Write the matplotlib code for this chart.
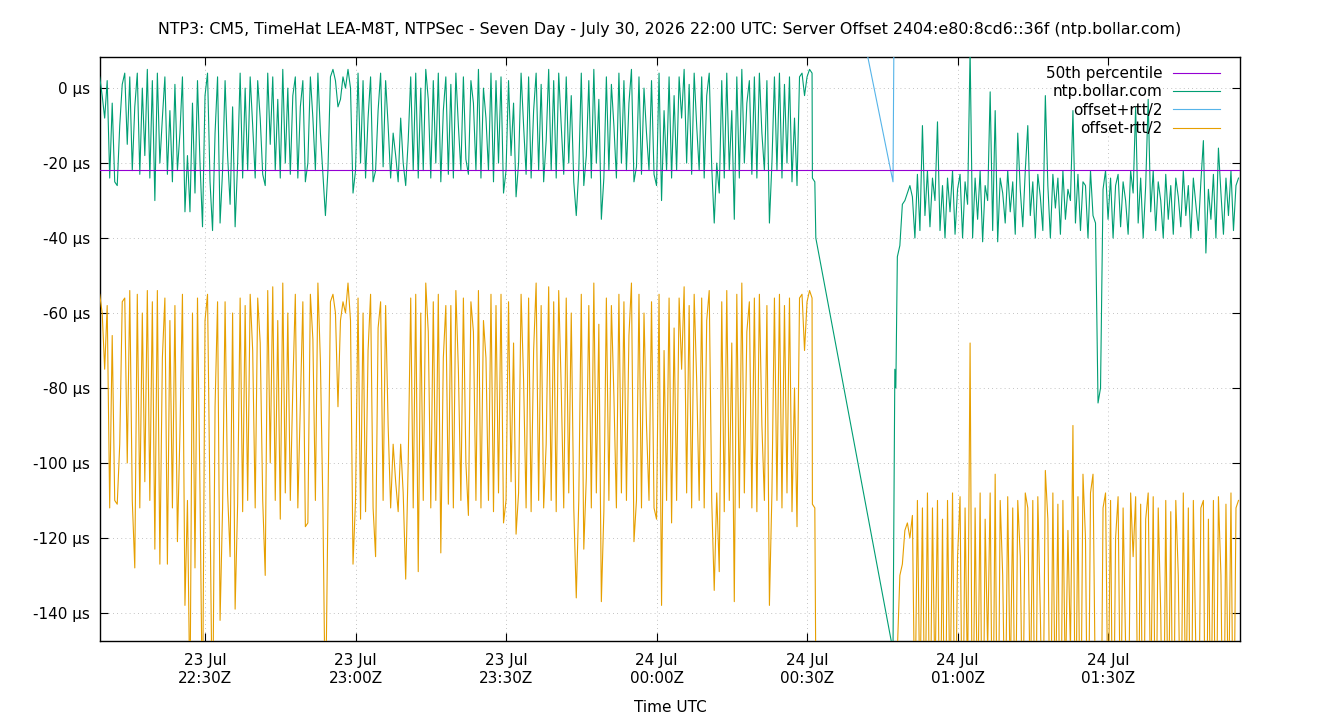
import numpy as np
import pandas as pd
import matplotlib
matplotlib.use('Agg')
from matplotlib import pyplot as plt
import matplotlib.dates as mdates
from matplotlib.ticker import FuncFormatter, MultipleLocator

TITLE = ('NTP3: CM5, TimeHat LEA-M8T, NTPSec - Seven Day - July 30, 2026 22:00 UTC: '
         'Server Offset 2404:e80:8cd6::36f (ntp.bollar.com)')

# 30 s samples from 23 Jul 22:09:00 up to the outage (µs)
pre_start = '2026-07-23 22:09:00'
pre_offset = [
    3, -2, -8, 2, -24, -4, -25, -26, -10, 1,
    4, -15, 3, -22, -5, 4, -23, 0, -18, 5,
    -24, 2, -30, 4, -20, -8, 3, -23, -6, -25,
    1, -22, -12, 3, -33, -18, -33, -4, -28, 2,
    -20, -37, -2, 4, -25, -38, -12, 3, -36, -22,
    2, -18, -31, -5, -37, -20, 4, -24, 0, -22,
    3, -10, -24, 2, -8, -23, -26, 4, -15, 3,
    -22, -3, -24, 5, -20, 0, -23, -2, 3, -24,
    -5, 2, -25, -20, 3, -8, -22, 4, -12, -23,
    -34, -22, 3, 5, 2, -5, -3, 3, 0, 5,
    0, -28, -22, 4, -20, 2, -24, -8, 3, -25,
    -22, -6, 4, -21, 2, -10, -24, -12, -18, -25,
    -8, -20, -26, -14, 3, -22, 4, -24, 0, -22,
    5, -3, -24, 2, -20, 4, -25, -6, 3, -23,
    1, -24, 4, -10, -22, 3, -19, -23, 2, -4,
    -22, 5, -24, 0, -8, -22, 4, -25, 2, -20,
    3, -28, -22, 2, -18, -4, -29, -20, 4, -10,
    -23, 3, -24, -6, 4, -22, 1, -25, -14, 5,
    -22, 2, -24, 4, -10, -23, 3, -20, -2, -25,
    -34, -22, 4, -26, -18, 2, -24, 5, -20, -3,
    -35, -24, 3, -22, 1, -10, -24, 4, -20, 2,
    -22, -4, 5, -25, -21, 3, -23, 0, -12, -22,
    2, -23, -26, 4, -30, -6, -22, 3, -24, -2,
    -22, 3, -8, 5, -20, 1, -23, 4, -10, -22,
    3, -24, -2, 4, -21, -36, -20, -28, 2, -24,
    4, -22, -6, -35, 3, -24, 5, -20, -4, 2,
    -23, 3, -24, 4, -12, -22, 2, -36, -20, 3,
    -22, 4, -24, 1, -20, 3, -25, -8, -26, 3,
    4, -2, 3, 5, 4,
]
pre_low = [
    -55, -60, -75, -58, -112, -66, -110, -111, -95, -57,
    -56, -100, -54, -110, -128, -55, -112, -60, -105, -54,
    -110, -57, -123, -54, -127, -72, -56, -127, -62, -112,
    -58, -121, -92, -55, -138, -110, -165, -60, -128, -56,
    -108, -170, -62, -55, -112, -175, -85, -57, -142, -112,
    -57, -108, -125, -60, -139, -111, -56, -113, -58, -110,
    -55, -70, -112, -56, -68, -110, -130, -54, -100, -53,
    -110, -62, -115, -52, -108, -60, -110, -80, -55, -112,
    -85, -57, -117, -116, -55, -67, -110, -52, -73, -112,
    -170, -112, -57, -55, -60, -85, -62, -57, -60, -52,
    -62, -127, -110, -56, -115, -60, -113, -70, -55, -112,
    -125, -64, -57, -110, -58, -90, -112, -95, -105, -113,
    -95, -108, -131, -100, -56, -112, -55, -129, -60, -110,
    -52, -65, -112, -57, -110, -55, -124, -72, -58, -111,
    -58, -112, -54, -75, -110, -56, -100, -114, -57, -65,
    -110, -54, -112, -62, -72, -110, -55, -113, -58, -108,
    -55, -116, -110, -57, -105, -68, -119, -108, -55, -78,
    -112, -56, -113, -70, -52, -110, -58, -112, -95, -53,
    -110, -57, -113, -54, -80, -112, -56, -108, -60, -112,
    -136, -110, -55, -123, -104, -58, -112, -52, -108, -63,
    -137, -113, -56, -110, -58, -82, -112, -55, -108, -57,
    -110, -66, -52, -121, -110, -55, -112, -60, -90, -110,
    -57, -112, -115, -55, -138, -70, -110, -56, -116, -64,
    -110, -56, -75, -53, -108, -58, -112, -55, -78, -110,
    -56, -112, -62, -54, -110, -134, -108, -129, -57, -113,
    -54, -110, -68, -137, -55, -112, -52, -108, -65, -57,
    -112, -56, -113, -55, -90, -110, -58, -138, -108, -56,
    -110, -55, -112, -58, -108, -56, -113, -80, -117, -56,
    -55, -70, -57, -54, -56,
]

# irregular samples across the outage
gap_times = ['2026-07-24 00:31:04', '2026-07-24 00:31:33', '2026-07-24 00:31:45',
             '2026-07-24 00:47:08', '2026-07-24 00:47:30', '2026-07-24 00:47:42']
gap_offset = [-24, -25, -40, -150, -75, -80]
gap_low = [-111, -112, -157, -275, -200, -185]

# 30 s samples after the outage
post_start = '2026-07-24 00:48:00'
post_offset = [
    -45, -42, -31, -30, -28, -26, -29, -40, -23, -38,
    -10, -34, -22, -37, -24, -30, -9, -38, -26, -40,
    -24, -33, -22, -39, -27, -23, -40, -25, -31, 10,
    -40, -24, -35, -22, -41, -26, -30, -1, -38, -6,
    -41, -24, -28, -36, -22, -33, -25, -39, -12, -27,
    -37, -22, -10, -34, -25, -40, -23, -29, -38, -2,
    -26, -40, -23, -32, -24, -39, -22, -35, -27, -30,
    -6, -36, -23, -38, -25, -26, -40, -22, -34, -36,
    -84, -80, -27, -22, -35, -24, -40, -26, -23, -37,
    -25, -30, -39, -22, -28, -5, -36, -24, -40, -26,
    -3, -33, -22, -38, -25, -30, -40, -23, -35, -26,
    -39, -24, -29, -37, -22, -34, -26, -40, -24, -31,
    -38, -25, -14, -44, -27, -35, -23, -40, -16, -28,
    -39, -24, -34, -22, -38, -26, -24,
]
post_low = [
    -150, -130, -127, -118, -116, -120, -114, -170, -110, -165,
    -112, -175, -108, -180, -112, -160, -110, -185, -115, -190,
    -110, -165, -108, -180, -125, -109, -185, -112, -160, -68,
    -190, -112, -170, -108, -195, -115, -150, -108, -185, -103,
    -195, -110, -130, -175, -109, -160, -112, -180, -110, -125,
    -175, -108, -112, -165, -110, -190, -109, -140, -180, -102,
    -115, -185, -108, -170, -111, -190, -110, -160, -118, -150,
    -90, -180, -109, -185, -103, -120, -190, -108, -103, -165,
    -200, -195, -112, -108, -170, -110, -190, -120, -109, -175,
    -112, -150, -185, -108, -125, -109, -180, -111, -195, -115,
    -108, -165, -109, -185, -112, -140, -190, -110, -175, -113,
    -190, -110, -130, -180, -108, -170, -112, -195, -110, -150,
    -185, -112, -110, -200, -115, -175, -110, -190, -109, -130,
    -190, -111, -170, -108, -185, -112, -110,
]

median_offset = -21.9

COLORS = {'median': '#9400d3', 'offset': '#009e73', 'high': '#56b4e9', 'low': '#e69f00'}


def main():
    times = np.concatenate([
        pd.date_range(pre_start, periods=len(pre_offset), freq='30s').values,
        pd.to_datetime(gap_times).values,
        pd.date_range(post_start, periods=len(post_offset), freq='30s').values,
    ])
    offset = np.array(pre_offset + gap_offset + post_offset, dtype=float)
    low = np.array(pre_low + gap_low + post_low, dtype=float)
    half_rtt = offset - low
    high = offset + half_rtt

    plt.rcParams['font.family'] = 'DejaVu Sans'
    fig = plt.figure(figsize=(13.4, 7.2), dpi=100)
    ax = fig.add_axes([100 / 1340, 79 / 720, 1140 / 1340, 584 / 720])

    ax.plot(times, offset, color=COLORS['offset'], lw=0.8, label='ntp.bollar.com', zorder=3)
    ax.plot(times, high, color=COLORS['high'], lw=0.8, label='offset+rtt/2', zorder=3)
    ax.plot(times, low, color=COLORS['low'], lw=0.8, label='offset-rtt/2', zorder=3)
    ax.axhline(median_offset, color=COLORS['median'], lw=0.8, label='50th percentile', zorder=4)

    ax.set_xlim(pd.Timestamp('2026-07-23 22:09:04'), pd.Timestamp('2026-07-24 01:56:18'))
    ax.set_ylim(-147.5, 8.3)

    ax.xaxis.set_major_locator(mdates.MinuteLocator(byminute=[0, 30]))
    ax.xaxis.set_major_formatter(mdates.DateFormatter('%d %b\n%H:%MZ'))
    ax.yaxis.set_major_locator(MultipleLocator(20))
    ax.yaxis.set_major_formatter(FuncFormatter(lambda v, p: '%d \u00b5s' % round(v)))

    ax.tick_params(direction='in', top=True, right=True, length=6, width=0.8,
                   labelsize=11)
    ax.tick_params(axis='y', pad=7)
    ax.tick_params(axis='x', pad=9)
    ax.grid(True, color='#b0b0b0', lw=0.6, linestyle=(0, (1, 4)))
    for s in ax.spines.values():
        s.set_linewidth(1.0)

    ax.set_xlabel('Time UTC', fontsize=11, labelpad=10)
    fig.suptitle(TITLE, fontsize=11.4, y=0.969)

    handles, labels = ax.get_legend_handles_labels()
    order = [3, 0, 1, 2]
    leg = ax.legend([handles[i] for i in order], [labels[i] for i in order],
                    loc='upper right', bbox_to_anchor=(1 - 20 / 1140, 1 - 9 / 584),
                    frameon=False, markerfirst=False, fontsize=11,
                    handlelength=3.1, handletextpad=0.65, labelspacing=0.22,
                    borderaxespad=0, borderpad=0)
    # gnuplot-style key: labels right-aligned against the samples
    for col in leg._legend_handle_box.get_children():
        col.align = 'right'

    fig.savefig('out.png', dpi=100)


if __name__ == '__main__':
    main()
